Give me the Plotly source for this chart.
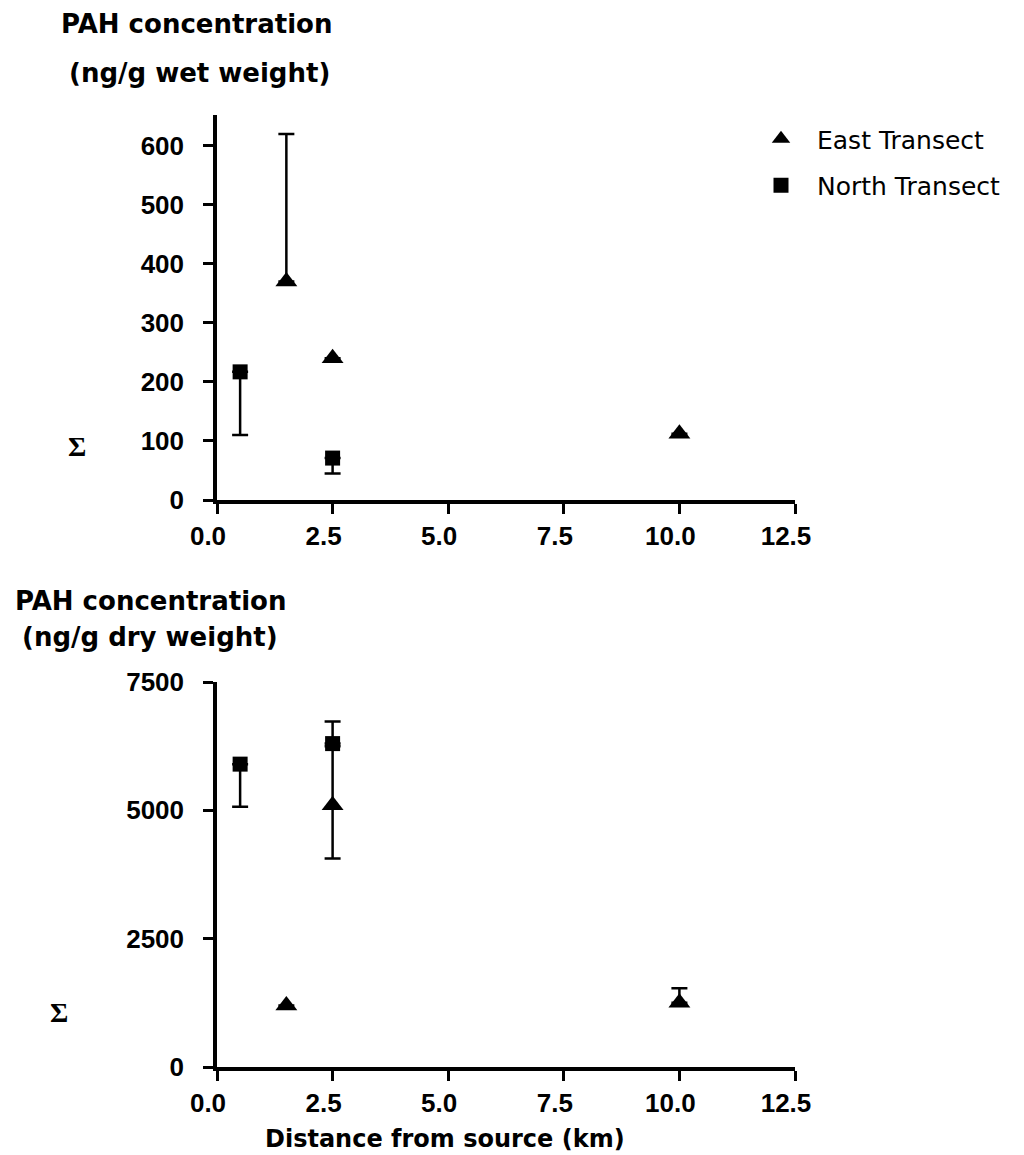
import plotly.graph_objects as go

# ---------------- data ----------------
x_ticks = [0.0, 2.5, 5.0, 7.5, 10.0, 12.5]

# wet weight (top panel)
east_wet_x = [1.5, 2.5, 10.0]
east_wet_y = [370, 240, 112]
east_wet_err_plus = [250, 0, 0]
east_wet_err_minus = [0, 0, 0]

north_wet_x = [0.5, 2.5]
north_wet_y = [217, 71]
north_wet_err_plus = [0, 0]
north_wet_err_minus = [107, 26]

# dry weight (bottom panel)
east_dry_x = [1.5, 2.5, 10.0]
east_dry_y = [1200, 5100, 1250]
east_dry_err_plus = [0, 1150, 285]
east_dry_err_minus = [0, 1040, 0]

north_dry_x = [0.5, 2.5]
north_dry_y = [5900, 6300]
north_dry_err_plus = [0, 430]
north_dry_err_minus = [830, 0]

wet_ticks = [0, 100, 200, 300, 400, 500, 600]
dry_ticks = [0, 2500, 5000, 7500]

# ---------------- layout geometry (pixels) ----------------
FIG_W, FIG_H = 1024, 1155
L, R, T, B = 217, 795, 115, 1067
PW, PH = R - L, B - T


def px2x(px):
    return (px - L) / PW


def py2y(py):
    return (B - py) / PH


TICK_FONT = dict(family="Liberation Sans, Arial, sans-serif", size=26, color="black", weight="bold")
TITLE_FONT = dict(family="DejaVu Sans, sans-serif", size=26, color="black", weight="bold")

fig = go.Figure()


def err(plus, minus):
    return dict(type="data", symmetric=False, array=plus, arrayminus=minus,
                color="black", thickness=2.5, width=8, visible=True)


fig.add_trace(go.Scatter(
    x=east_wet_x, y=east_wet_y, mode="markers", name="East Transect",
    legendgroup="east",
    marker=dict(symbol="triangle-up", size=19, color="black"),
    error_y=err(east_wet_err_plus, east_wet_err_minus),
    xaxis="x", yaxis="y", showlegend=True, cliponaxis=False))
fig.add_trace(go.Scatter(
    x=north_wet_x, y=north_wet_y, mode="markers", name="North Transect",
    legendgroup="north",
    marker=dict(symbol="square", size=15, color="black"),
    error_y=err(north_wet_err_plus, north_wet_err_minus),
    xaxis="x", yaxis="y", showlegend=True, cliponaxis=False))
fig.add_trace(go.Scatter(
    x=east_dry_x, y=east_dry_y, mode="markers", name="East Transect",
    legendgroup="east",
    marker=dict(symbol="triangle-up", size=19, color="black"),
    error_y=err(east_dry_err_plus, east_dry_err_minus),
    xaxis="x2", yaxis="y2", showlegend=False, cliponaxis=False))
fig.add_trace(go.Scatter(
    x=north_dry_x, y=north_dry_y, mode="markers", name="North Transect",
    legendgroup="north",
    marker=dict(symbol="square", size=15, color="black"),
    error_y=err(north_dry_err_plus, north_dry_err_minus),
    xaxis="x2", yaxis="y2", showlegend=False, cliponaxis=False))

axis_common = dict(showline=True, linecolor="black", linewidth=3.5,
                   ticks="outside", ticklen=10, tickwidth=3, tickcolor="black",
                   showgrid=False, zeroline=False, tickfont=TICK_FONT, fixedrange=True)

x_common = dict(axis_common, range=[0, 12.5], tickvals=x_ticks,
                ticktext=[f"{v:.1f}" for v in x_ticks], ticklabelshift=-9,
                ticklabelstandoff=0)

fig.update_layout(
    width=FIG_W, height=FIG_H,
    margin=dict(l=L, r=FIG_W - R, t=T, b=FIG_H - B, pad=0),
    paper_bgcolor="white", plot_bgcolor="white",
    xaxis=dict(x_common, domain=[0, 1], anchor="y"),
    yaxis=dict(axis_common, domain=[py2y(500), 1.0], range=[0, 652],
               tickvals=wet_ticks, anchor="x", ticklabelstandoff=14),
    xaxis2=dict(x_common, domain=[0, 1], anchor="y2"),
    yaxis2=dict(axis_common, domain=[0, py2y(682)], range=[0, 7500],
                tickvals=dry_ticks, anchor="x2", ticklabelstandoff=14),
    legend=dict(x=px2x(745), y=py2y(116), xanchor="left", yanchor="top",
                font=dict(family="DejaVu Sans, sans-serif", size=25, color="black"),
                itemwidth=62, bgcolor="rgba(0,0,0,0)", borderwidth=0,
                traceorder="grouped", tracegroupgap=11),
    showlegend=True,
)

annots = [
    ("PAH concentration", 196, 24, TITLE_FONT),
    ("(ng/g wet weight)", 199, 73, TITLE_FONT),
    ("PAH concentration", 150, 601, TITLE_FONT),
    ("(ng/g dry weight)", 150, 637, TITLE_FONT),
    ("Distance from source (km)", 445, 1139, dict(TITLE_FONT, size=24)),
    ("Σ", 77, 446, dict(family="Liberation Serif, Times New Roman, serif", size=28, color="black", weight="bold")),
    ("Σ", 59, 1012, dict(family="Liberation Serif, Times New Roman, serif", size=28, color="black", weight="bold")),
]
for text, px, py, font in annots:
    fig.add_annotation(text=text, x=px2x(px), y=py2y(py), xref="paper", yref="paper",
                       xanchor="center", yanchor="middle", showarrow=False, font=font)

fig.write_html(
    "out.html",
    config={"displayModeBar": False},
    post_script="document.body.style.margin='0';document.body.style.overflow='hidden';",
)
